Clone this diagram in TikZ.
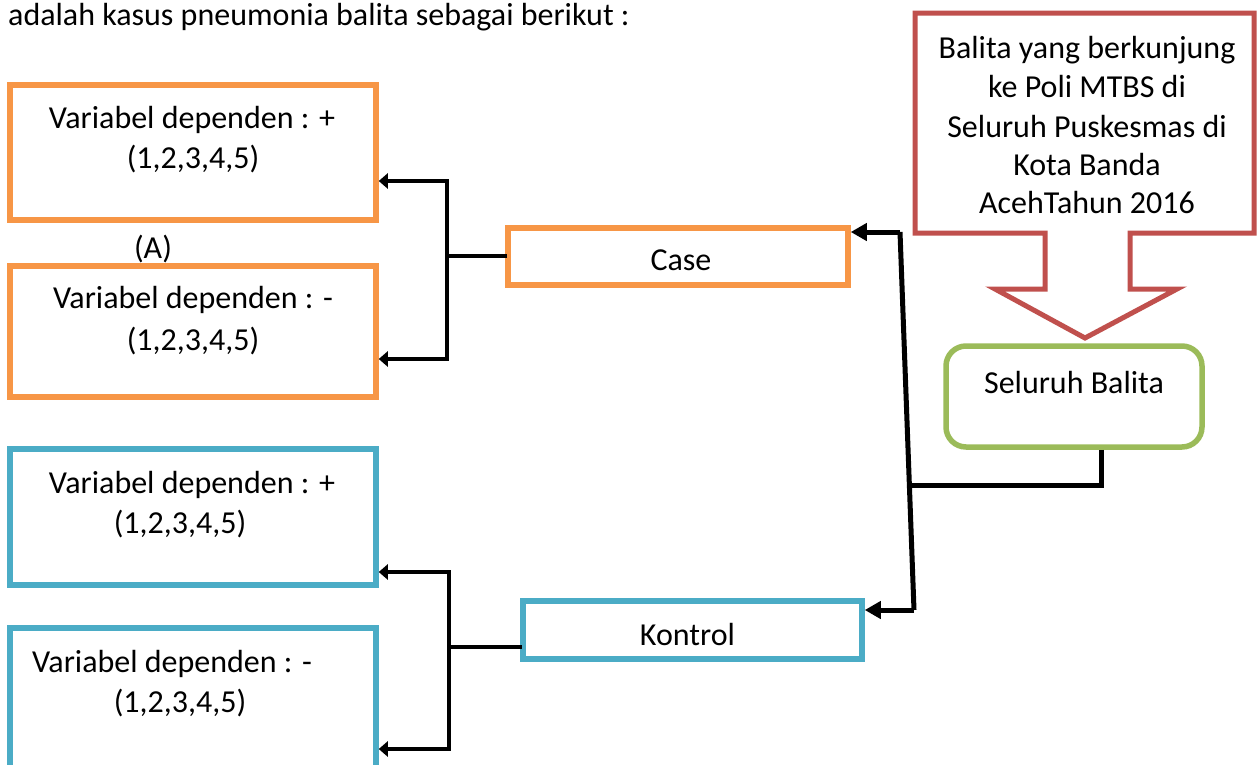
\documentclass[tikz,border=0pt]{standalone}
\usepackage{fontspec}
\setmainfont{Carlito}
\usetikzlibrary{arrows.meta}
\definecolor{orangeC}{HTML}{F79646}
\definecolor{blueC}{HTML}{4BACC6}
\definecolor{redC}{HTML}{C0504D}
\definecolor{greenC}{HTML}{9BBB59}
\begin{document}
\begin{tikzpicture}[x=1pt,y=-1pt,
  txt/.style={inner sep=0pt,anchor=base,font=\fontsize{32}{38.8}\selectfont},
  obox/.style={draw=orangeC,line width=5.5pt,rectangle,inner sep=0pt},
  bbox/.style={draw=blueC,line width=5.5pt,rectangle,inner sep=0pt},
  brk/.style={line width=4pt,line cap=rect},
  brkarrow/.style={line width=4pt,-{Triangle[length=9pt,width=15pt]}},
  trunk/.style={line width=5pt},
  trunkarrow/.style={line width=5pt,-{Triangle[length=16pt,width=17pt]}}
]
\useasboundingbox (0,0) rectangle (1259,764);
\clip (0,0) rectangle (1259,764);

% heading
\node[txt,anchor=base west] (head) at (8,25) {adalah kasus pneumonia balita sebagai berikut :};

% orange boxes
\node[obox,minimum width=366pt,minimum height=135pt] (o1) at (193,152.5) {};
\node[obox,minimum width=366pt,minimum height=131pt] (o2) at (193,331.5) {};
\node[txt] (o1a) at (192,128) {Variabel dependen : +};
\node[txt] (o1b) at (193,168) {(1,2,3,4,5)};
\node[txt] (o2a) at (193,308) {Variabel dependen : -};
\node[txt] (o2b) at (193,350) {(1,2,3,4,5)};
\node[txt] (lblA) at (153,258) {(A)};

% blue boxes
\node[bbox,minimum width=366pt,minimum height=136pt] (b1) at (193,517) {};
\node[bbox,minimum width=366pt,minimum height=140pt] (b2) at (193,698) {};
\node[txt] (b1a) at (192,493) {Variabel dependen : +};
\node[txt] (b1b) at (180,533) {(1,2,3,4,5)};
\node[txt] (b2a) at (172,672) {Variabel dependen : -};
\node[txt] (b2b) at (180,712) {(1,2,3,4,5)};

% case / kontrol
\node[obox,minimum width=340pt,minimum height=57pt] (case) at (678,256.5) {};
\node[txt] (caset) at (681,270) {Case};
\node[bbox,minimum width=339pt,minimum height=58pt] (kontrol) at (692.5,630) {};
\node[txt] (kontrolt) at (687.5,645) {Kontrol};

% green box
\node[draw=greenC,line width=5.5pt,rounded corners=20pt,minimum width=256pt,minimum height=101pt,inner sep=0pt] (all) at (1074,396.5) {};
\node[txt] (allt) at (1074,393) {Seluruh Balita};

% red callout
\draw[redC,line width=5pt,line join=miter,fill=white]
  (915,13) -- (1254,13) -- (1254,233) -- (1130,233) -- (1130,289) -- (1177,289)
  -- (1085,338) -- (995,289) -- (1045,289) -- (1045,233) -- (915,233) -- cycle;
\node[txt] (r1) at (1087,58) {Balita yang berkunjung};
\node[txt] (r2) at (1087,97) {ke Poli MTBS di};
\node[txt] (r3) at (1087,137) {Seluruh Puskesmas di};
\node[txt] (r4) at (1087,175) {Kota Banda};
\node[txt] (r5) at (1087,213) {AcehTahun 2016};

% case bracket
\coordinate (cj) at (447,256);
\coordinate (ct) at (447,181);
\coordinate (cb) at (447,359);
\draw[brk] (case.west |- cj) -- (cj);
\draw[brk] (ct) -- (cb);
\draw[brkarrow] (ct) -- (o1.east |- ct);
\draw[brkarrow] (cb) -- (o2.east |- cb);

% kontrol bracket
\coordinate (kj) at (449,647);
\coordinate (kt) at (449,572);
\coordinate (kb) at (449,749);
\draw[brk] (kontrol.west |- kj) -- (kj);
\draw[brk] (kt) -- (kb);
\draw[brkarrow] (kt) -- (b1.east |- kt);
\draw[brkarrow] (kb) -- (b2.east |- kb);

% trunk
\coordinate (tt) at (900,232);
\coordinate (tb) at (914,610);
\coordinate (tj) at (907,485);
\coordinate (gs) at (1101,485);
\draw[trunk] (tt) -- (tb);
\draw[trunkarrow] (tt) -- (case.east |- tt);
\draw[trunkarrow] (tb) -- (kontrol.east |- tb);
\draw[trunk] (all.south -| gs) -- (gs) -- (tj);
\end{tikzpicture}
\end{document}
